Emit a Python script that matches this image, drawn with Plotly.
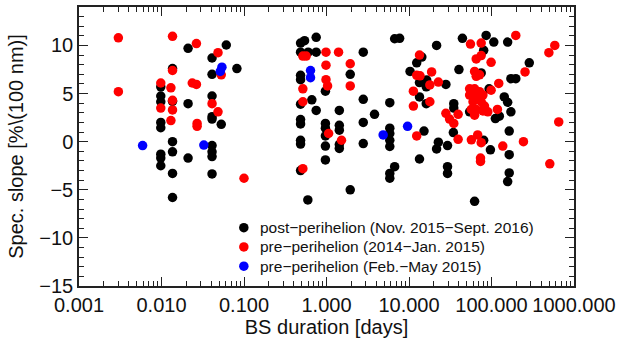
import plotly.graph_objects as go

# post-perihelion (Nov. 2015-Sept. 2016)
post_days = [0.0098,0.0098,0.0098,0.0098,0.0098,0.0098,0.0098,0.0098,
             0.0136,0.0136,0.0136,0.0136,0.0136,0.0136,
             0.021,0.021,0.021,
             0.041,0.041,0.041,0.041,0.041,0.041,0.041,0.041,0.041,
             0.053,0.061,0.082,
             0.485,0.485,0.485,0.485,0.485,0.485,0.485,0.485,0.485,0.485,
             0.542,0.75,0.75,0.75,0.6,0.664,0.594,
             0.97,0.97,0.97,0.97,0.97,0.97,
             1.43,1.43,1.43,1.43,1.43,
             1.94,1.94,
             2.79,2.79,2.79,2.79,
             3.82,
             5.85,5.85,5.85,5.85,5.85,5.85,5.85,
             6.7,6.7,7.7,
             10.3,12.4,14.3,13.4,13.4,13.4,
             16.4,16.2,16.2,15.2,
             21.6,22.7,21.6,
             28,29.3,29.3,29.3,
             34.9,34.9,34.5,
             40.3,44.4,54.3,62.4,
             80.4,75,93.5,86.1,106.6,157,
             80.4,97,111.4,124.4,142.9,157,171.9,
             164,164,164,157,171.9,197,287]
post_slope = [5.7,4.75,4.15,2.0,1.45,-1.3,-1.7,-2.5,
              7.6,4.2,0.0,-1.05,-3.3,-5.8,
              9.7,3.95,-1.7,
              8.7,7.0,4.75,2.6,2.35,-0.4,-1.05,-1.55,-3.35,
              1.8,10.05,7.6,
              10.25,9.3,6.9,6.45,3.9,2.3,1.85,0.15,-0.25,-3.0,
              10.5,10.85,9.3,3.25,9.3,4.35,-6.05,
              5.25,1.9,1.4,0.6,-0.45,-1.9,
              3.25,1.7,1.2,-0.3,-0.7,
              7.0,-5.0,
              9.3,4.4,2.0,-0.2,
              2.85,
              4.05,1.4,0.85,0.15,-0.5,-3.3,-3.8,
              10.7,-2.6,10.75,
              7.3,8.2,8.8,6.15,4.65,-1.8,
              6.4,5.7,3.95,1.1,
              10.0,-0.05,-0.75,
              5.95,-0.4,-2.6,-3.3,
              3.95,3.5,0.95,
              7.5,10.75,3.1,-6.2,
              9.5,7.15,5.5,11.05,10.35,10.35,
              0.15,-0.85,2.4,2.65,4.65,4.1,3.1,
              1.1,-1.35,-3.25,-4.15,6.55,6.55,8.2]

# pre-perihelion (2014-Jan. 2015)
pre1_days = [0.003,0.003,0.0098,0.0098,
             0.0136,0.0136,0.0136,0.0136,0.013,0.013,
             0.0236,0.0265,0.0265,0.027,0.027,
             0.041,0.0484,0.0484,0.053,0.1,
             0.517,0.567,0.517,0.517,0.517,
             0.986,0.986,0.986,1.03,1.06,
             1.40,1.52,1.94,1.94,
             12.4,13.4,12.4,13.6,11.3,11.3,
             18.8,17.9,17.9,22.7,
             28,31,34.9,39.4,39.4,
             55.6,75,197,75,65.3,98.9,
             62.4,65.3,71.6,255,122.4,98.9,
             54.3,62.4,71.6,54.3,65.3,78.7,59.7,75,82.2,56.9,65.3,78.7,90.2,62.4,118,
             68,57,75,137,244,73.6,73.6,
             509,653,496,585]
pre1_slope = [10.8,5.2,6.1,3.5,
              10.95,7.4,4.3,3.3,5.6,2.2,
              6.1,10.2,5.95,1.9,1.6,
              3.95,9.25,3.1,6.95,-3.8,
              8.9,8.9,5.5,4.15,-2.8,
              9.3,7.95,6.45,5.8,0.85,
              9.3,0.15,8.1,5.8,
              0.6,9.0,6.9,6.85,5.25,3.7,
              7.25,5.9,4.15,6.2,
              2.95,2.35,1.9,2.85,0.25,
              10.15,10.25,11.05,8.95,8.6,8.25,
              7.3,6.8,6.95,7.25,6.05,5.35,
              5.5,5.5,5.2,4.85,4.65,4.85,4.15,4.15,3.7,3.35,3.35,3.2,3.1,2.75,3.35,
              0.7,0.2,-0.1,-0.45,0.0,-1.7,-2.05,
              -2.3,2.05,9.25,10.0]

# pre-perihelion (Feb.-May 2015)
pre2_days = [0.0059,0.0326,0.054,0.0516,0.64,0.64,4.86,9.61]
pre2_slope = [-0.4,-0.35,7.75,7.3,7.4,6.65,0.7,1.6]

series_names = ["post\u2212perihelion (Nov. 2015\u2212Sept. 2016)",
                "pre\u2212perihelion (2014\u2212Jan. 2015)",
                "pre\u2212perihelion (Feb.\u2212May 2015)"]
series_colors = ["black", "#ff0000", "#0000ff"]

x_tickvals = [0.001, 0.01, 0.1, 1, 10, 100, 1000]
x_ticktext = ["0.001", "0.010", "0.100", "1.000", "10.000", "100.000", "1000.000"]
y_tickvals = [-15, -10, -5, 0, 5, 10]

FONT = "Liberation Sans, Arial, sans-serif"
msize = 9.5

fig = go.Figure()
for xs, ys, name, col in zip([post_days, pre1_days, pre2_days],
                             [post_slope, pre1_slope, pre2_slope],
                             series_names, series_colors):
    fig.add_trace(go.Scatter(x=xs, y=ys, mode="markers", name=name, showlegend=False,
                             marker=dict(color=col, size=msize, line=dict(width=0))))

axis_common = dict(showline=True, linecolor="#222", linewidth=1.5, mirror="ticks",
                   ticks="inside", ticklen=9, tickwidth=1.2, tickcolor="#222",
                   showgrid=False, zeroline=False,
                   tickfont=dict(family=FONT, size=20, color="#111"),
                   title_font=dict(family=FONT, size=20, color="#111"))

fig.update_xaxes(type="log", range=[-3, 3], tickvals=x_tickvals, ticktext=x_ticktext,
                 title_text="BS duration [days]", title_standoff=2,
                 minor=dict(ticks="inside", ticklen=5, tickcolor="#222", dtick="D1", showgrid=False),
                 **axis_common)
fig.update_yaxes(range=[-15, 14], tickvals=y_tickvals,
                 title_text="Spec. slope [%\\(100 nm)]", title_standoff=10,
                 minor=dict(ticks="inside", ticklen=5, tickcolor="#222", dtick=1, showgrid=False),
                 **axis_common)

# legend drawn in paper coordinates (marker + text rows)
leg_marker_x = 0.333
leg_text_x = 0.361
leg_rows_y = [0.209, 0.140, 0.071]
for name, col, ly in zip(series_names, series_colors, leg_rows_y):
    fig.add_shape(type="circle", xref="paper", yref="paper",
                  xsizemode="pixel", ysizemode="pixel",
                  xanchor=leg_marker_x, yanchor=ly,
                  x0=-4.75, x1=4.75, y0=-4.75, y1=4.75,
                  fillcolor=col, line=dict(width=0))
    fig.add_annotation(x=leg_text_x, y=ly, xref="paper", yref="paper",
                       text=name, showarrow=False, xanchor="left", yanchor="middle",
                       font=dict(family=FONT, size=15.5, color="#111"))

fig.update_layout(
    width=621, height=345,
    margin=dict(l=79, r=44, t=5, b=59),
    paper_bgcolor="white", plot_bgcolor="white",
    showlegend=False,
)

fig.write_html("out.html")
